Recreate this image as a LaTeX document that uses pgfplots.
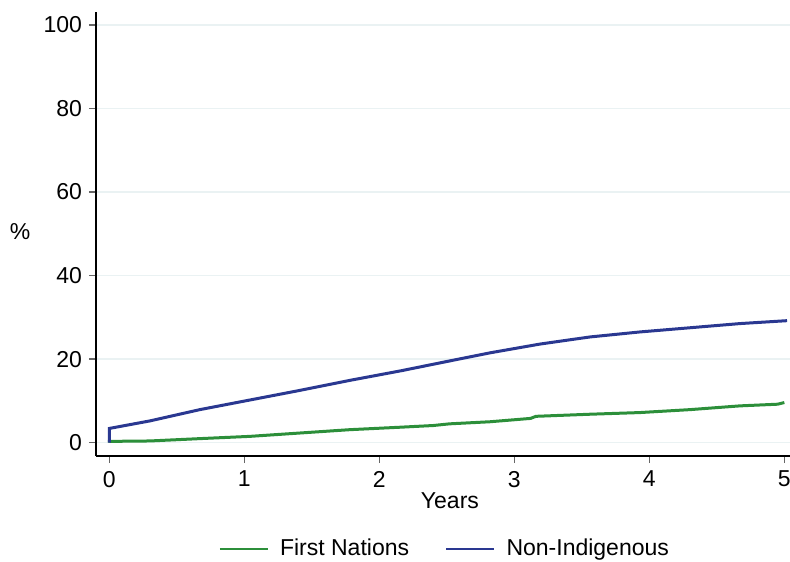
\documentclass[border=0pt]{standalone}
\usepackage{fontspec}
\setmainfont{Liberation Sans}
\usepackage{pgfplots}
\pgfplotsset{compat=1.18}
\definecolor{fnGreen}{RGB}{44,143,58}
\definecolor{niBlue}{RGB}{42,56,145}
\definecolor{gridc}{RGB}{234,242,243}
\begin{document}
\begin{tikzpicture}
\begin{axis}[
  at={(0pt,0pt)}, anchor=south west,
  scale only axis,
  width=347pt, height=222pt,
  xmin=-0.099, xmax=5.042,
  ymin=-3.2, ymax=103.1,
  axis x line*=bottom, axis y line*=left,
  axis line style={line width=0.6pt, black},
  xtick={0,1,2,3,4,5}, ytick={0,20,40,60,80,100},
  tick align=outside, major tick length=3.5pt,
  tick style={line width=0.6pt, black!60},
  ymajorgrids, grid style={line width=0.6pt, gridc},
  /pgf/number format/assume math mode=true,
  tick label style={font=\fontsize{11.5}{13}\selectfont},
  xticklabel style={yshift=-0.5pt},
  label style={font=\fontsize{11.5}{13}\selectfont},
  xlabel={Years},
  xlabel style={at={(axis description cs:0.51,0)}, anchor=base, yshift=-26pt},
  ylabel={\%},
  ylabel style={rotate=-90, at={(axis description cs:-0.1095,0.505)}, anchor=center},
  legend style={at={(axis description cs:0.504,0)}, anchor=center, yshift=-46.5pt,
    draw=none, font=\fontsize{11.5}{13}\selectfont, legend columns=2,
    /tikz/every odd column/.append style={column sep=3.5pt},
    /tikz/every even column/.append style={column sep=16pt}},
  legend image code/.code={\draw[#1, line width=1.2pt] (0pt,0pt) -- (24pt,0pt);},
  legend cell align=left,
  clip=false,
]
\addplot[color=fnGreen, line width=1.5pt] coordinates {
(0,0) (0,0.3) (0.30,0.4) (0.67,0.96) (1.04,1.5) (1.41,2.3) (1.78,3.1) (2.16,3.7) (2.40,4.1)
(2.52,4.5) (2.82,5.0) (3.12,5.8) (3.16,6.3) (3.56,6.8) (3.93,7.2) (4.30,7.9) (4.67,8.8) (4.95,9.2) (5.0,9.6)
};
\addlegendentry{First Nations}
\addplot[color=niBlue, line width=1.5pt] coordinates {
(0,0) (0,3.4) (0.30,5.2) (0.67,7.9) (1.04,10.2) (1.41,12.5) (1.78,14.9) (2.16,17.2) (2.45,19.1)
(2.82,21.5) (3.19,23.6) (3.56,25.3) (3.93,26.5) (4.30,27.5) (4.67,28.5) (5.02,29.2)
};
\addlegendentry{Non-Indigenous}
\end{axis}
\pgfresetboundingbox
\useasboundingbox (-48pt,-52.5pt) rectangle (347pt,228pt);
\end{tikzpicture}
\end{document}
